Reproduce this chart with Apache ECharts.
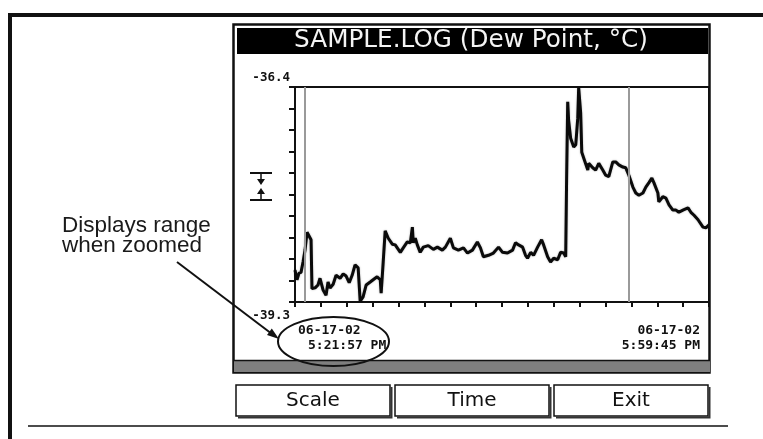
<!DOCTYPE html>
<html><head><meta charset="utf-8">
<script src="https://cdn.jsdelivr.net/npm/echarts@6/dist/echarts.min.js"></script>
<style>html,body{margin:0;padding:0;background:#fff}#c{width:763px;height:439px}</style>
</head><body><div id="c"></div>
<script>
// elapsed seconds since 06-17-02 5:21:57 PM
const times = [0,11,22,33,44,55,66,77,88,93,
110,126,137,154,170,181,192,209,225,247,
264,280,297,313,329,346,357,373,390,412,
428,450,467,472,483,494,511,533,549,577,
593,615,632,643,648,659,670,686,703,730,
758,780,807,824,851,868,895,923,945,972,
999,1016,1032,1060,1087,1115,1137,1164,1192,1208,
1225,1247,1263,1274,1291,1307,1329,1351,1362,1384,
1400,1417,1439,1455,1472,1483,1488,1494,1499,1510,
1527,1538,1549,1554,1565,1571,1582,1604,1609,1631,
1647,1664,1686,1702,1719,1741,1757,1774,1796,1812,
1829,1851,1867,1884,1906,1922,1939,1955,1966,1988,
1993,2015,2032,2049,2070,2087,2103,2125,2153,2169,
2186,2208,2235,2251,2268];
const dewPoint = [-38.87,-39.00,-38.91,-38.90,-38.76,-38.60,-38.36,-38.41,-38.46,-39.12,
-39.11,-39.07,-38.98,-39.14,-39.21,-39.03,-39.11,-39.06,-38.94,-38.98,
-38.92,-38.95,-39.04,-38.94,-38.80,-38.84,-39.29,-39.23,-39.07,-39.03,
-39.00,-38.96,-39.00,-39.18,-38.77,-38.34,-38.44,-38.52,-38.53,-38.63,
-38.57,-38.49,-38.50,-38.29,-38.50,-38.44,-38.53,-38.63,-38.56,-38.54,
-38.59,-38.56,-38.60,-38.56,-38.44,-38.57,-38.60,-38.57,-38.64,-38.60,
-38.49,-38.57,-38.69,-38.67,-38.64,-38.56,-38.63,-38.64,-38.60,-38.50,
-38.53,-38.56,-38.67,-38.71,-38.63,-38.67,-38.56,-38.46,-38.53,-38.69,
-38.76,-38.71,-38.73,-38.63,-38.64,-38.69,-37.63,-36.60,-36.85,-37.09,
-37.21,-37.18,-36.82,-36.41,-36.75,-37.28,-37.36,-37.52,-37.43,-37.49,
-37.52,-37.43,-37.52,-37.59,-37.61,-37.41,-37.41,-37.45,-37.48,-37.49,
-37.59,-37.75,-37.83,-37.86,-37.83,-37.75,-37.69,-37.63,-37.69,-37.83,
-37.95,-37.88,-37.90,-37.99,-38.06,-38.06,-38.09,-38.06,-38.03,-38.09,
-38.13,-38.19,-38.29,-38.30,-38.26];
const cursorTimes = [55, 1829];
const yMin = -39.3, yMax = -36.4, yStep = 0.29;
const xMax = 2268, xStep = 141.75;
const yTickLabels = ['-36.4', '-39.3'];
const startLabel = ['06-17-02', '5:21:57 PM'];
const endLabel = ['06-17-02', '5:59:45 PM'];
const titleText = 'SAMPLE.LOG (Dew Point, °C)';
const buttonLabels = ['Scale', 'Time', 'Exit'];
const noteLines = ['Displays range', 'when zoomed'];

const INK = '#111';
function txt(x, y, text, font, fill, align, valign, z) {
  return { type: 'text', x: x, y: y, z: z || 50, silent: true,
    style: { text: text, font: font, fill: fill, align: align, textAlign: align,
      verticalAlign: valign, textVerticalAlign: valign } };
}
const mono = 'bold 13px "DejaVu Sans Mono"';
const g = [];
// page frame
g.push({ type: 'rect', z: 5, shape: { x: 8, y: 13, width: 755, height: 4 }, style: { fill: INK } });
g.push({ type: 'rect', z: 5, shape: { x: 8, y: 13, width: 4, height: 426 }, style: { fill: INK } });
g.push({ type: 'line', z: 5, shape: { x1: 28, y1: 426, x2: 728, y2: 426 }, style: { stroke: INK, lineWidth: 1.5 } });
// device screen
g.push({ type: 'rect', z: 5, shape: { x: 233.5, y: 24.5, width: 476, height: 348 }, style: { fill: 'none', stroke: INK, lineWidth: 2.5 } });
g.push({ type: 'rect', z: 5, shape: { x: 237, y: 28, width: 471, height: 26 }, style: { fill: '#000' } });
g.push(txt(471, 41, titleText, '24.7px "DejaVu Sans"', '#f4f4f4', 'center', 'middle'));
g.push({ type: 'rect', z: 5, shape: { x: 234, y: 361, width: 476, height: 11 }, style: { fill: '#7f7f7f' } });
g.push({ type: 'line', z: 5, shape: { x1: 234, y1: 360.5, x2: 710, y2: 360.5 }, style: { stroke: INK, lineWidth: 1.5 } });
// axis end labels
g.push(txt(290, 78, yTickLabels[0], 'bold 12.5px "DejaVu Sans Mono"', INK, 'right', 'middle'));
g.push(txt(290, 316, yTickLabels[1], 'bold 12.5px "DejaVu Sans Mono"', INK, 'right', 'middle'));
g.push(txt(298, 331, startLabel[0], mono, INK, 'left', 'middle'));
g.push(txt(308, 346, startLabel[1], mono, INK, 'left', 'middle'));
g.push(txt(700, 331, endLabel[0], mono, INK, 'right', 'middle'));
g.push(txt(700, 346, endLabel[1], mono, INK, 'right', 'middle'));
// zoom range icon
g.push({ type: 'line', z: 5, shape: { x1: 250, y1: 173, x2: 272, y2: 173 }, style: { stroke: INK, lineWidth: 2 } });
g.push({ type: 'line', z: 5, shape: { x1: 261, y1: 174, x2: 261, y2: 182 }, style: { stroke: INK, lineWidth: 1.5 } });
g.push({ type: 'polygon', z: 5, shape: { points: [[257, 179], [265, 179], [261, 185]] }, style: { fill: INK } });
g.push({ type: 'line', z: 5, shape: { x1: 261, y1: 192, x2: 261, y2: 200 }, style: { stroke: INK, lineWidth: 1.5 } });
g.push({ type: 'polygon', z: 5, shape: { points: [[257, 194], [265, 194], [261, 188]] }, style: { fill: INK } });
g.push({ type: 'line', z: 5, shape: { x1: 250, y1: 200, x2: 272, y2: 200 }, style: { stroke: INK, lineWidth: 2 } });
// buttons
buttonLabels.forEach(function (b, i) {
  const x = 236 + i * 159, y = 385, w = 154, h = 31;
  g.push({ type: 'rect', z: 5, shape: { x: x, y: y, width: w, height: h }, style: { fill: '#fff', stroke: INK, lineWidth: 1.5 } });
  g.push({ type: 'polyline', z: 5, shape: { points: [[x + 2, y + h + 1.5], [x + w + 1.5, y + h + 1.5], [x + w + 1.5, y + 2]] }, style: { fill: 'none', stroke: '#333', lineWidth: 2 } });
  g.push(txt(x + w / 2, 401, b, '20px "DejaVu Sans"', INK, 'center', 'middle'));
});
// annotation
g.push(txt(62, 226, noteLines[0], '22.5px "Liberation Sans"', '#1a1a1a', 'left', 'middle'));
g.push(txt(62, 246, noteLines[1], '22.5px "Liberation Sans"', '#1a1a1a', 'left', 'middle'));
g.push({ type: 'ellipse', z: 40, shape: { cx: 333.5, cy: 341.5, rx: 55.5, ry: 24.5 }, style: { fill: 'none', stroke: INK, lineWidth: 2 } });
g.push({ type: 'line', z: 40, shape: { x1: 177, y1: 262, x2: 272, y2: 334 }, style: { stroke: INK, lineWidth: 2 } });
g.push({ type: 'polygon', z: 40, shape: { points: [[279, 339], [267, 335], [271.8, 328.6]] }, style: { fill: INK } });

const chart = echarts.init(document.getElementById('c'), null, { renderer: 'canvas' });
chart.setOption({
  animation: false,
  backgroundColor: '#fff',
  grid: { left: 295, right: 54, top: 87, bottom: 137, show: true, borderColor: INK, borderWidth: 2, backgroundColor: 'transparent' },
  xAxis: { type: 'value', min: 0, max: xMax, interval: xStep,
    axisLine: { show: true, lineStyle: { color: INK, width: 2 } },
    axisTick: { show: true, length: 5, lineStyle: { color: INK, width: 2 } },
    axisLabel: { show: false }, splitLine: { show: false } },
  yAxis: { type: 'value', min: yMin, max: yMax, interval: yStep,
    axisLine: { show: true, lineStyle: { color: INK, width: 2 } },
    axisTick: { show: true, length: 6, lineStyle: { color: INK, width: 2 } },
    axisLabel: { show: false }, splitLine: { show: false } },
  graphic: { elements: g },
  series: [
    { type: 'line', data: [], z: 1, silent: true,
      markLine: { silent: true, symbol: 'none', label: { show: false },
        lineStyle: { color: '#9a9a9a', width: 2, type: 'solid' },
        data: cursorTimes.map(function (t) { return { xAxis: t }; }) } },
    { type: 'line', name: 'Dew Point', z: 3, showSymbol: false, symbol: 'none',
      lineStyle: { color: '#0a0a0a', width: 3, shadowColor: 'rgba(0,0,0,0.3)', shadowBlur: 2 },
      data: times.map(function (t, i) { return [t, dewPoint[i]]; }) }
  ]
});
</script>
</body></html>
